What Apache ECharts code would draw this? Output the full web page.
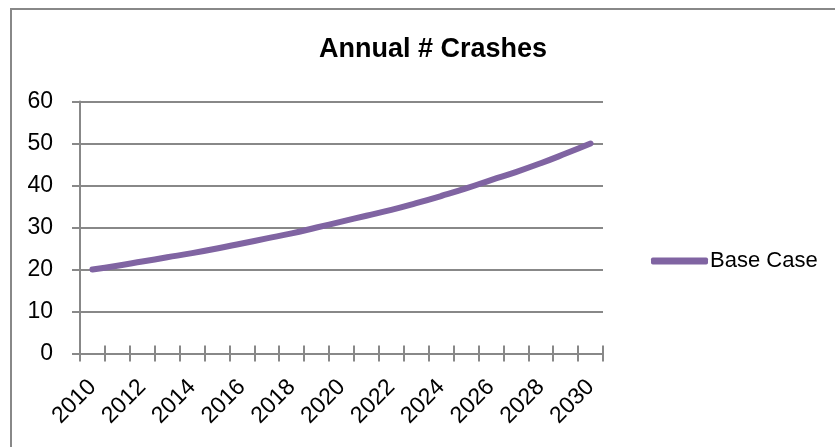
<!DOCTYPE html>
<html><head><meta charset="utf-8">
<script src="https://cdn.jsdelivr.net/npm/echarts@6/dist/echarts.min.js"></script>
<style>html,body{margin:0;padding:0;background:#fff}#c{width:835px;height:447px}</style>
</head><body><div id="c"></div>
<script>
var categories = ['2010','2011','2012','2013','2014','2015','2016','2017','2018','2019','2020','2021','2022','2023','2024','2025','2026','2027','2028','2029','2030'];
var baseCase = [20.0,20.9,21.9,22.9,23.9,25.0,26.2,27.4,28.6,30.0,31.4,32.8,34.2,35.8,37.5,39.3,41.3,43.2,45.3,47.6,50.0];
var yTicks = {min:0, max:60, interval:10};
var FONT = '"Liberation Sans",Arial,sans-serif';
var chart = echarts.init(document.getElementById('c'), null, {renderer:'canvas'});
chart.setOption({
  backgroundColor:'#fff',
  animation:false,
  graphic:[{type:'rect', shape:{x:11,y:9,width:900,height:500}, style:{fill:'none', stroke:'#888', lineWidth:2}, silent:true}],
  title:{text:'Annual # Crashes', left:428, top:31, textAlign:'center',
    textStyle:{fontFamily:FONT, fontWeight:'bold', fontSize:27, color:'#000'}},
  legend:{left:651, top:250, padding:0, icon:'roundRect', itemWidth:57, itemHeight:7, itemGap:0,
    textStyle:{fontFamily:FONT, fontSize:22, color:'#000', padding:[0,0,0,-3]},
    data:[{name:'Base Case', itemStyle:{color:'#8064A2'}}]},
  grid:{left:80, right:232, top:101.5, bottom:93.5, containLabel:false},
  xAxis:[{type:'category', data:categories, boundaryGap:true, position:'bottom',
    axisLine:{lineStyle:{color:'#888', width:2}},
    axisTick:{show:true, length:8, interval:0, lineStyle:{color:'#888', width:2}},
    axisLabel:{interval:1, rotate:45, margin:30, fontFamily:FONT, fontSize:23, color:'#000'}},
   {type:'category', data:categories, boundaryGap:true, position:'bottom',
    axisLine:{show:false}, axisLabel:{show:false}, splitLine:{show:false},
    axisTick:{show:true, inside:true, length:8, interval:0, lineStyle:{color:'#888', width:2}}}],
  yAxis:{type:'value', min:yTicks.min, max:yTicks.max, interval:yTicks.interval,
    axisLine:{show:true, lineStyle:{color:'#888', width:2}},
    axisTick:{show:true, length:8, lineStyle:{color:'#888', width:2}},
    splitLine:{lineStyle:{color:'#888', width:2}},
    axisLabel:{margin:27, fontFamily:FONT, fontSize:23, color:'#000'}},
  series:[{name:'Base Case', type:'line', xAxisIndex:0, data:baseCase, smooth:0.5, symbol:'none',
    lineStyle:{color:'#8064A2', width:6, cap:'round'}, itemStyle:{color:'#8064A2'}}]
});
</script></body></html>
